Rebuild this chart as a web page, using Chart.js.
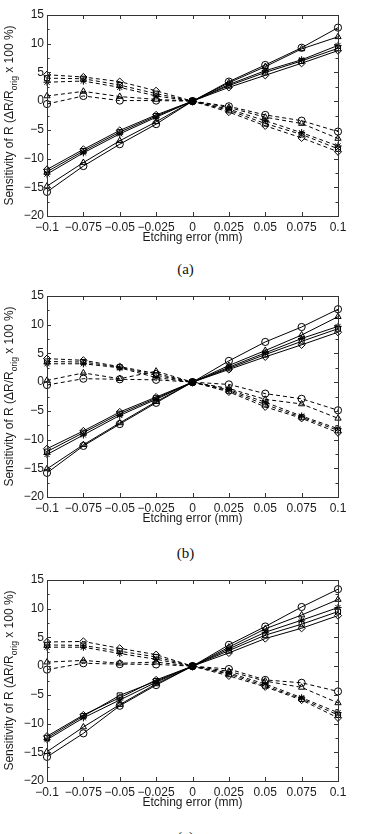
<!DOCTYPE html>
<html>
<head>
<meta charset="utf-8">
<script src="https://cdn.jsdelivr.net/npm/chart.js@4"></script>
<style>
  html, body { margin: 0; padding: 0; background: #fff; }
  body { width: 371px; height: 834px; position: relative; overflow: hidden; }
  .panel { position: absolute; left: 0; width: 371px; height: 250px; }
  .cap { position: absolute; left: 0; width: 371px; text-align: center;
         font-family: "Liberation Serif", "Times New Roman", serif; font-size: 15px; color: #111; line-height: 16px; }
</style>
</head>
<body>
<div class="panel" style="top:0px"><canvas id="cA" width="371" height="250"></canvas></div>
<div class="panel" style="top:281px"><canvas id="cB" width="371" height="250"></canvas></div>
<div class="panel" style="top:565px"><canvas id="cC" width="371" height="250"></canvas></div>
<div class="cap" style="top:261px">(a)</div>
<div class="cap" style="top:545px">(b)</div>
<div class="cap" style="top:829px">(c)</div>
<script>
// ---- data ----
const xTickValues = [-0.1, -0.075, -0.05, -0.025, 0, 0.025, 0.05, 0.075, 0.1];
const xTickLabels = ['\u22120.1', '\u22120.075', '\u22120.05', '\u22120.025', '0', '0.025', '0.05', '0.075', '0.1'];
const yTickValues = [-20, -15, -10, -5, 0, 5, 10, 15];
const yTickLabels = ['\u221220', '\u221215', '\u221210', '\u22125', '0', '5', '10', '15'];
const markerStyles = ['circle', 'triangle', 'star', 'rect', 'rectRot'];
const xTitle = 'Etching error (mm)';
const yTitleMain = 'Sensitivity of R (\u0394R/R';
const yTitleSub = 'orig';
const yTitleEnd = ' x 100 %)';

// panel (a): solid lines (circle, triangle, star, square, diamond)
const panelA_solid = [
  [-15.8, -11.3, -7.5, -4.0, 0, 3.4, 6.3, 9.3, 12.8],
  [-14.8, -10.7, -6.9, -3.6, 0, 3.2, 6.0, 9.1, 11.2],
  [-12.7, -9.0, -5.7, -2.8, 0, 2.9, 5.3, 7.2, 9.7],
  [-12.3, -8.7, -5.4, -2.6, 0, 2.7, 5.0, 7.0, 9.2],
  [-11.9, -8.4, -5.1, -2.4, 0, 2.4, 4.5, 6.6, 8.8]
];
const panelA_dashed = [
  [-0.5, 0.9, 0.1, 0.1, 0, -0.9, -2.4, -3.4, -5.3],
  [0.9, 1.7, 0.8, 0.3, 0, -1.1, -2.8, -3.9, -6.5],
  [3.3, 3.5, 2.4, 0.9, 0, -1.4, -3.4, -5.5, -7.8],
  [4.0, 3.9, 2.8, 1.3, 0, -1.6, -3.9, -5.8, -8.3],
  [4.6, 4.2, 3.4, 1.8, 0, -1.9, -4.3, -6.4, -8.8]
];
// panel (b)
const panelB_solid = [
  [-15.8, -11.1, -7.3, -3.6, 0, 3.7, 7.0, 9.6, 12.7],
  [-15.1, -10.9, -7.1, -3.4, 0, 2.9, 5.5, 8.2, 11.4],
  [-12.6, -9.2, -5.8, -3.0, 0, 2.6, 5.1, 7.6, 9.7],
  [-12.1, -8.8, -5.5, -2.8, 0, 2.4, 4.8, 7.1, 9.3],
  [-11.6, -8.5, -5.2, -2.6, 0, 2.2, 4.4, 6.5, 8.7]
];
const panelB_dashed = [
  [-0.5, 0.6, 0.5, 0.4, 0, -0.4, -2.0, -2.9, -4.9],
  [0.3, 1.6, 0.6, 1.9, 0, -1.1, -3.0, -3.8, -6.3],
  [3.2, 3.2, 2.5, 0.8, 0, -1.3, -3.5, -5.9, -8.1],
  [3.6, 3.5, 2.6, 1.2, 0, -1.5, -3.9, -6.1, -8.4],
  [4.1, 3.8, 2.7, 1.5, 0, -1.7, -4.3, -6.3, -8.8]
];
// panel (c)
const panelC_solid = [
  [-15.8, -11.7, -6.9, -3.3, 0, 3.7, 6.9, 10.3, 13.4],
  [-14.9, -10.6, -6.7, -3.1, 0, 3.3, 6.5, 8.9, 11.6],
  [-12.8, -9.0, -5.9, -2.8, 0, 3.0, 5.9, 8.0, 10.2],
  [-12.5, -8.7, -5.1, -2.6, 0, 2.7, 5.4, 7.3, 9.5],
  [-12.2, -8.5, -5.5, -2.4, 0, 2.3, 4.8, 6.6, 8.8]
];
const panelC_dashed = [
  [-0.6, 0.5, 0.35, 0.3, 0, -0.5, -2.4, -2.9, -4.4],
  [0.7, 1.0, 0.5, 0.7, 0, -0.9, -2.6, -3.7, -6.4],
  [3.3, 3.3, 2.2, 1.2, 0, -1.2, -3.1, -5.5, -8.1],
  [3.7, 3.6, 2.6, 1.6, 0, -1.4, -3.4, -5.7, -8.5],
  [4.2, 4.3, 3.1, 2.0, 0, -1.7, -3.6, -5.9, -9.0]
];

// ---- drawing ----
const FONT = '"Liberation Sans", Arial, sans-serif';
const INK = '#1a1a1a';

const framePlugin = {
  id: 'frame',
  afterDraw(chart) {
    const { ctx, chartArea: a, scales } = chart;
    ctx.save();
    ctx.strokeStyle = '#333';
    ctx.lineWidth = 1;
    ctx.strokeRect(Math.round(a.left) + 0.5, Math.round(a.top) + 0.5,
                   Math.round(a.right - a.left), Math.round(a.bottom - a.top));
    ctx.beginPath();
    const tl = 4;
    xTickValues.forEach(v => {
      const x = Math.round(scales.x.getPixelForValue(v)) + 0.5;
      ctx.moveTo(x, a.bottom); ctx.lineTo(x, a.bottom - tl);
      ctx.moveTo(x, a.top); ctx.lineTo(x, a.top + tl);
    });
    for (let v = -20; v <= 15; v += 2.5) {
      const y = Math.round(scales.y.getPixelForValue(v)) + 0.5;
      const len = (v % 5 === 0) ? tl : 2.5;
      ctx.moveTo(a.left, y); ctx.lineTo(a.left + len, y);
      ctx.moveTo(a.right, y); ctx.lineTo(a.right - len, y);
    }
    ctx.stroke();

    // x axis title
    ctx.fillStyle = INK;
    ctx.font = '12px ' + FONT;
    ctx.textAlign = 'center';
    ctx.textBaseline = 'middle';
    ctx.fillText(xTitle, (a.left + a.right) / 2, a.bottom + 22);

    // y axis title with subscript
    const cy = (a.top + a.bottom) / 2;
    ctx.translate(10, cy);
    ctx.rotate(-Math.PI / 2);
    ctx.textAlign = 'left';
    const mainFont = '12px ' + FONT, subFont = '8.5px ' + FONT;
    ctx.font = mainFont; const w1 = ctx.measureText(yTitleMain).width;
    ctx.font = subFont; const w2 = ctx.measureText(yTitleSub).width;
    ctx.font = mainFont; const w3 = ctx.measureText(yTitleEnd).width;
    let x0 = -(w1 + w2 + w3) / 2;
    ctx.font = mainFont; ctx.fillText(yTitleMain, x0, 0);
    ctx.font = subFont; ctx.fillText(yTitleSub, x0 + w1, 5);
    ctx.font = mainFont; ctx.fillText(yTitleEnd, x0 + w1 + w2, 0);
    ctx.restore();
  }
};

function makeDatasets(solid, dashed) {
  const ds = [];
  const mk = (arr, i, dash) => ({
    data: xTickValues.map((x, j) => ({ x: x, y: arr[j] })),
    borderColor: '#000',
    borderWidth: 1,
    borderDash: dash ? [4, 3] : [],
    pointStyle: markerStyles[i],
    pointRadius: 3.6,
    pointBorderColor: '#000',
    pointBorderWidth: 1,
    pointBackgroundColor: 'rgba(0,0,0,0)',
    fill: false,
    tension: 0,
    clip: false
  });
  dashed.forEach((arr, i) => ds.push(mk(arr, i, true)));
  solid.forEach((arr, i) => ds.push(mk(arr, i, false)));
  return ds;
}

function makeChart(id, solid, dashed) {
  return new Chart(document.getElementById(id), {
    type: 'line',
    data: { datasets: makeDatasets(solid, dashed) },
    options: {
      responsive: false,
      animation: false,
      devicePixelRatio: 1,
      layout: { padding: { left: 0, right: 33, top: 15, bottom: 0 } },
      plugins: { legend: { display: false }, tooltip: { enabled: false } },
      scales: {
        x: {
          type: 'linear', min: -0.1, max: 0.1,
          afterBuildTicks: s => { s.ticks = xTickValues.map(v => ({ value: v })); },
          afterFit: s => { s.height = 34; },
          grid: { display: false, drawTicks: false },
          border: { display: false },
          ticks: {
            padding: 4, autoSkip: false, maxRotation: 0, minRotation: 0,
            color: INK, font: { family: FONT, size: 12 },
            callback: (v, i) => xTickLabels[i]
          }
        },
        y: {
          type: 'linear', min: -20, max: 15,
          afterBuildTicks: s => { s.ticks = yTickValues.map(v => ({ value: v })); },
          afterFit: s => { s.width = 47; },
          grid: { display: false, drawTicks: false },
          border: { display: false },
          ticks: {
            padding: 3, color: INK, font: { family: FONT, size: 12 },
            callback: (v, i) => yTickLabels[i]
          }
        }
      }
    },
    plugins: [framePlugin]
  });
}

makeChart('cA', panelA_solid, panelA_dashed);
makeChart('cB', panelB_solid, panelB_dashed);
makeChart('cC', panelC_solid, panelC_dashed);
</script>
</body>
</html>
